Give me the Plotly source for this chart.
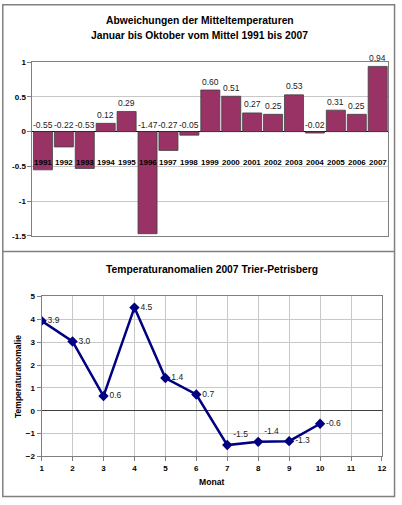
import plotly.graph_objects as go

# ---- data ----
years = ["1991", "1992", "1993", "1994", "1995", "1996", "1997", "1998", "1999",
         "2000", "2001", "2002", "2003", "2004", "2005", "2006", "2007"]
deviations = [-0.55, -0.22, -0.53, 0.12, 0.29, -1.47, -0.27, -0.05, 0.60,
              0.51, 0.27, 0.25, 0.53, -0.02, 0.31, 0.25, 0.94]

months = [1, 2, 3, 4, 5, 6, 7, 8, 9, 10]
anomalies = [3.93, 3.03, 0.64, 4.51, 1.43, 0.71, -1.50, -1.36, -1.33, -0.57]
anomaly_labels = ["3.9", "3.0", "0.6", "4.5", "1.4", "0.7", "-1.5", "-1.4", "-1.3", "-0.6"]
label_pos = ["middle right", "middle right", "middle right", "middle right", "middle right",
             "middle right", "top right", "top right", "middle right", "middle right"]

W, H = 402, 505
FONT = "Arial, Liberation Sans, sans-serif"


def px_x(p):
    return p / W


def px_y(p):
    return 1 - p / H


fig = go.Figure()

# ---- top bar chart ----
fig.add_trace(go.Bar(
    x=years, y=deviations,
    marker=dict(color="#993366", line=dict(color="#404040", width=0.8)),
    xaxis="x", yaxis="y", showlegend=False, hoverinfo="x+y",
))

# ---- bottom line chart ----
fig.add_trace(go.Scatter(
    x=months, y=anomalies,
    mode="lines+markers+text",
    text=anomaly_labels, textposition=label_pos,
    textfont=dict(family=FONT, size=8.5, color="#222222"),
    line=dict(color="#000080", width=2.5),
    marker=dict(symbol="diamond", size=8, color="#000080"),
    xaxis="x2", yaxis="y2", showlegend=False,
))


def paper_text(text, xp, yp, size, angle=0):
    return dict(text=text, x=px_x(xp), y=px_y(yp), xref="paper", yref="paper",
                xanchor="center", yanchor="middle", showarrow=False, textangle=angle,
                font=dict(family=FONT, size=size, color="#000"))


annotations = [
    paper_text("<b>Abweichungen der Mitteltemperaturen</b>", 201, 17, 10.3),
    paper_text("<b>Januar bis Oktober vom Mittel 1991 bis 2007</b>", 201, 32, 10.3),
    paper_text("<b>Temperaturanomalien 2007 Trier-Petrisberg</b>", 213.5, 270.7, 10.3),
    paper_text("<b>Monat</b>", 213.5, 487, 8.6),
    paper_text("<b>Temperaturanomalie</b>", 17, 379, 8.5, angle=-90),
]

# year labels and value labels for the bar chart (x = category index)
for i, (yr, v) in enumerate(zip(years, deviations)):
    annotations.append(dict(text="<b>%s</b>" % yr, x=i, y=0, xref="x", yref="y",
                            yshift=-30.7, xanchor="center", yanchor="middle", showarrow=False,
                            font=dict(family=FONT, size=8, color="#000")))
    annotations.append(dict(text="%.2f" % v, x=i, y=max(v, 0), xref="x", yref="y",
                            yshift=8.5 if v >= 0 else 6.5,
                            xanchor="center", yanchor="middle", showarrow=False,
                            font=dict(family=FONT, size=8.5, color="#222")))

shapes = [
    dict(type="rect", xref="paper", yref="paper",
         x0=px_x(0.8), x1=px_x(399.5), y0=px_y(501.5), y1=px_y(0.8),
         line=dict(color="#808080", width=1.5)),
    dict(type="line", xref="paper", yref="paper",
         x0=px_x(0.8), x1=px_x(399.5), y0=px_y(252), y1=px_y(252),
         line=dict(color="#808080", width=1.5)),
]

tickfont = dict(family=FONT, size=8, color="#000", weight="bold")

fig.update_layout(
    width=W, height=H,
    margin=dict(l=0, r=0, t=0, b=0),
    paper_bgcolor="white", plot_bgcolor="white",
    bargap=0.09,
    annotations=annotations,
    shapes=shapes,
    xaxis=dict(domain=[px_x(31), px_x(393)], anchor="y", type="category",
               range=[-0.5, 16.5], showticklabels=False, showgrid=False, ticks="",
               showline=True, mirror=True, linecolor="#808080", linewidth=1),
    yaxis=dict(domain=[px_y(236), px_y(59.3)], anchor="x", range=[-1.5, 1],
               tickvals=[-1.5, -1, -0.5, 0, 0.5, 1],
               ticktext=["-1.5", "-1", "-0.5", "0", "0.5", "1"],
               showgrid=True, gridcolor="#c8c8c8", gridwidth=1,
               zeroline=True, zerolinecolor="#000", zerolinewidth=1,
               showline=True, mirror=True, linecolor="#808080", linewidth=1,
               ticks="outside", ticklen=4, tickcolor="#808080", tickfont=tickfont),
    xaxis2=dict(domain=[px_x(40.3), px_x(386.7)], anchor="y2", range=[1, 12], dtick=1,
                showgrid=True, gridcolor="#c8c8c8", gridwidth=1, zeroline=False,
                showline=True, mirror=True, linecolor="#808080", linewidth=1,
                ticks="outside", ticklen=4, tickcolor="#808080", tickfont=tickfont),
    yaxis2=dict(domain=[px_y(460.7), px_y(297.7)], anchor="x2", range=[-2, 5], dtick=1,
                showgrid=True, gridcolor="#c8c8c8", gridwidth=1,
                zeroline=True, zerolinecolor="#404040", zerolinewidth=1,
                showline=True, mirror=True, linecolor="#808080", linewidth=1,
                ticks="outside", ticklen=4, tickcolor="#808080", tickfont=tickfont),
)

# remove the default 8px page margin so the 402x505 figure fills the window exactly
fig.write_html("out.html", config={"displayModeBar": False},
               post_script="document.body.style.margin='0';")
